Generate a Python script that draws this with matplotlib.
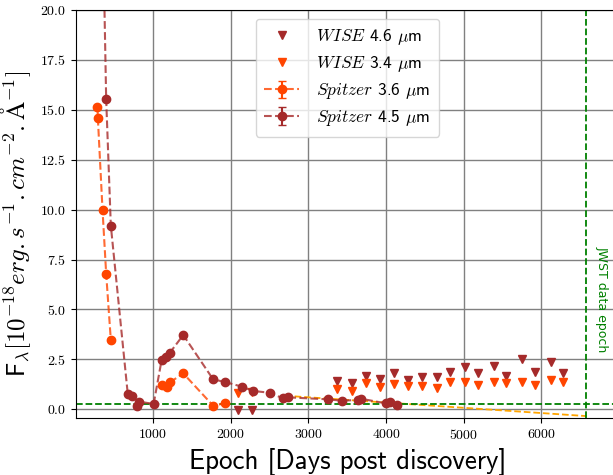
import numpy as np
import matplotlib
matplotlib.use('Agg')
import matplotlib.pyplot as plt

plt.rcParams['mathtext.fontset'] = 'cm'
plt.rcParams['font.family'] = ['cmss10', 'DejaVu Sans']
plt.rcParams['axes.formatter.use_mathtext'] = True

# Spitzer IRAC photometry (days post discovery, flux in 1e-18 erg/s/cm2/A)
spitzer36_epoch = [285, 290, 350, 397, 457, 800, 1119, 1184, 1218, 1389, 1774, 1923]
spitzer36_flux = [15.15, 14.6, 10.0, 6.8, 3.47, np.nan, 1.22, 1.10, 1.35, 1.80, 0.18, 0.30]
spitzer36_err = [0.05] * len(spitzer36_flux)

spitzer45_epoch = [350, 397, 457, 675, 726, 790, 825, 1008, 1111, 1167, 1218, 1389,
                   1774, 1923, 2149, 2286, 2500, 2671, 2735, 3248, 3432, 3641,
                   3675, 3996, 4047, 4137]
spitzer45_flux = [25.3, 15.55, 9.2, 0.77, 0.67, 0.17, 0.38, 0.27, 2.47, 2.64, 2.84, 3.72,
                  1.50, 1.37, 1.13, 0.92, 0.83, 0.55, 0.60, 0.50, 0.43, 0.47,
                  0.53, 0.30, 0.38, 0.23]
spitzer45_err = [0.05] * len(spitzer45_flux)

# WISE / NEOWISE photometry
wise_epoch = [2094, 2273, 3367, 3555, 3739, 3923, 4103, 4286, 4457, 4650, 4821,
              5013, 5184, 5385, 5547, 5748, 5919, 6119, 6282]
wise46_flux = [-0.02, -0.02, 1.43, 1.30, 1.67, 1.52, 1.80, 1.47, 1.63, 1.63, 1.88,
               2.13, 1.83, 2.17, 1.68, 2.52, 1.88, 2.38, 1.80]
wise34_flux = [0.80, 0.88, 1.02, 0.93, 1.30, 1.10, 1.27, 1.17, 1.18, 1.08, 1.35,
               1.35, 1.22, 1.35, 1.30, 1.38, 1.22, 1.47, 1.35]

# linear decline extrapolated to the JWST epoch
fit_epoch = [2700, 6578]
fit_flux = [0.68, -0.34]

jwst_epoch = 6578
floor_level = 0.27

fig = plt.figure(figsize=(6.13, 4.75), dpi=100)
ax = fig.add_axes([0.1235, 0.1194, 0.8866, 0.8595])

ax.grid(True, color='gray', lw=1, zorder=0)
ax.set_axisbelow(True)

ax.plot(wise_epoch, wise46_flux, 'v', color='brown', ms=6, label=r'$\it{WISE}$ 4.6 $\mu$m')
ax.plot(wise_epoch, wise34_flux, 'v', color='orangered', ms=6, label=r'$\it{WISE}$ 3.4 $\mu$m')

ax.errorbar(spitzer36_epoch, spitzer36_flux, yerr=spitzer36_err, fmt='o--',
            color=(1.0, 0.27, 0.0, 0.8), mfc='orangered', mec='orangered',
            ecolor='orangered', ms=6, lw=1.5, capsize=3,
            label=r'$\it{Spitzer}$ 3.6 $\mu$m')
ax.errorbar(spitzer45_epoch, spitzer45_flux, yerr=spitzer45_err, fmt='o--',
            color=(0.65, 0.16, 0.16, 0.8), mfc='brown', mec='brown',
            ecolor='brown', ms=6, lw=1.5, capsize=3,
            label=r'$\it{Spitzer}$ 4.5 $\mu$m')

ax.plot(fit_epoch, fit_flux, '--', color='orange', lw=1.3)
ax.axhline(floor_level, color='green', ls='--', lw=1.3)
ax.axvline(jwst_epoch, color='green', ls='--', lw=1.3)
ax.text(jwst_epoch + 200, 5.5, 'JWST data epoch', color='green', fontsize=9,
        family='DejaVu Sans', rotation=270, ha='center', va='center')

ax.set_xlim(5, 7000)
ax.set_ylim(-0.45, 20)
ax.set_xticks([1000, 2000, 3000, 4000, 5000, 6000])
ax.set_yticks(np.arange(0, 20.1, 2.5))
ax.tick_params(labelsize=10, labelfontfamily='cmr10')

ax.set_xlabel('Epoch [Days post discovery]', fontsize=19.5)
ax.set_ylabel(r'F$_\lambda[10^{-18}erg.s^{-1}.cm^{-2}.\mathrm{\AA}^{-1}]$', fontsize=18)
ax.yaxis.set_label_coords(-0.078, 0.476)

ax.legend(loc='upper center', fontsize=12.5, labelspacing=0.4, borderpad=0.5,
          handletextpad=1.0)

fig.savefig('out.png', dpi=100)
